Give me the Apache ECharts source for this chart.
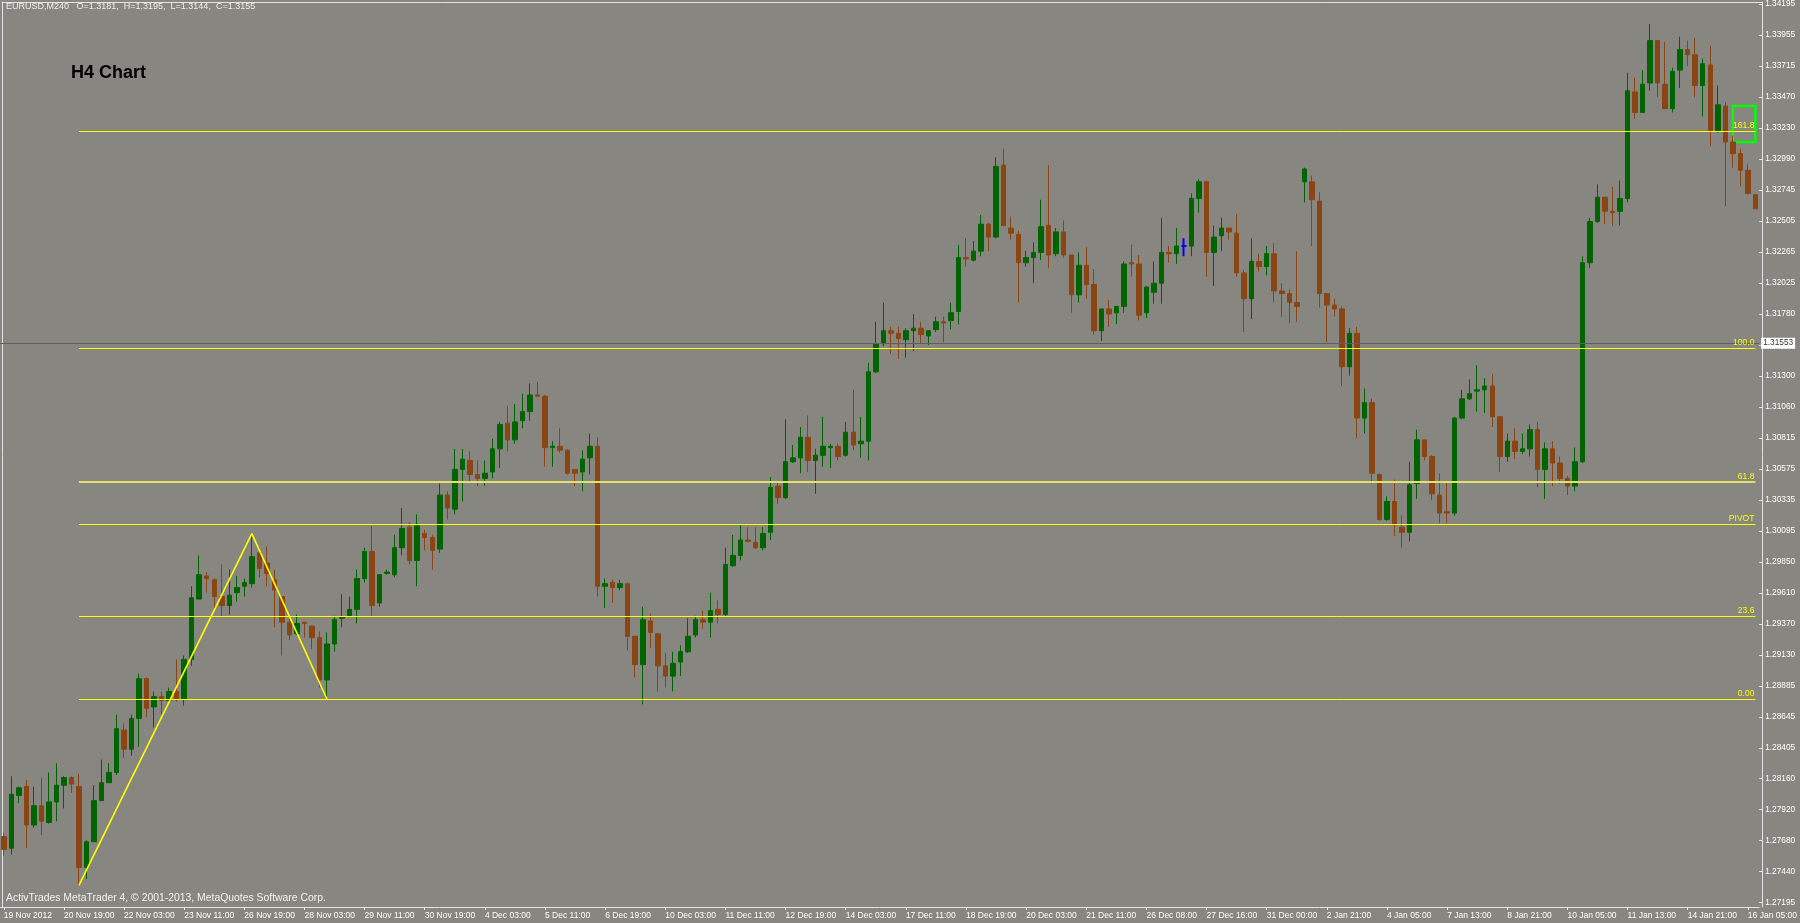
<!DOCTYPE html>
<html><head><meta charset="utf-8">
<script src="https://cdn.jsdelivr.net/npm/echarts@6/dist/echarts.min.js"></script>
<style>html,body{margin:0;padding:0;background:#878680;}#chart{width:1800px;height:923px;}</style>
</head><body><div id="chart"></div>
<script>
// EURUSD H4 OHLC, one entry per bar (first entry is the bar cut by the left edge)
const opens = [
1.2771,1.2762,1.2803,1.2810,1.2780,1.2795,1.2782,1.2798,1.2811,1.2817,
1.2810,1.2747,1.2767,1.2799,1.2813,1.2821,1.2854,1.2839,1.2863,1.2894,
1.2872,1.2880,1.2877,1.2884,1.2878,1.2909,1.2956,1.2974,1.2971,1.2958,
1.2951,1.2961,1.2966,1.2968,1.2992,1.2984,1.2971,1.2958,1.2938,1.2929,
1.2938,1.2935,1.2926,1.2893,1.2921,1.2941,1.2943,1.2948,1.2972,1.2993,
1.2953,1.2976,1.2975,1.2996,1.3012,1.2986,1.3007,1.3004,1.2995,1.3037,
1.3026,1.3057,1.3064,1.3053,1.3050,1.3055,1.3073,1.3093,1.3080,1.3095,
1.3102,1.3115,1.3114,1.3074,1.3075,1.3072,1.3057,1.3055,1.3066,1.3075,
1.2966,1.2969,1.2965,1.2968,1.2927,1.2905,1.2939,1.2929,1.2904,1.2896,
1.2907,1.2915,1.2928,1.2940,1.2938,1.2948,1.2944,1.2982,1.2990,1.3002,
1.3000,1.2996,1.3008,1.3044,1.3035,1.3063,1.3066,1.3082,1.3064,1.3068,
1.3074,1.3075,1.3068,1.3086,1.3077,1.3079,1.3133,1.3155,1.3165,1.3163,
1.3158,1.3165,1.3167,1.3161,1.3166,1.3172,1.3173,1.3180,1.3222,1.3220,
1.3227,1.3248,1.3238,1.3294,1.3245,1.3240,1.3218,1.3222,1.3226,1.3247,
1.3225,1.3242,1.3224,1.3193,1.3216,1.3201,1.3165,1.3182,1.3179,1.3184,
1.3218,1.3217,1.3179,1.3195,1.3202,1.3226,1.3225,1.3231,1.3231,1.3268,
1.3281,1.3226,1.3239,1.3245,1.3241,1.3210,1.3190,1.3219,1.3215,1.3225,
1.3196,1.3194,1.3187,1.3281,1.3281,1.3266,1.3194,1.3185,1.3182,1.3137,
1.3163,1.3097,1.3109,1.3053,1.3018,1.3032,1.3012,1.3008,1.3046,1.3080,
1.3067,1.3037,1.3024,1.3023,1.3097,1.3112,1.3118,1.3119,1.3122,1.3098,
1.3067,1.3079,1.3071,1.3073,1.3088,1.3057,1.3073,1.3062,1.3050,1.3044,
1.3063,1.3218,1.3250,1.3269,1.3258,1.3258,1.3268,1.3351,1.3335,1.3358,
1.3391,1.3357,1.3338,1.3368,1.3384,1.3380,1.3356,1.3372,1.3321,1.3340,
1.3312,1.3303,1.3290,1.3271];
const highs = [
1.2774,1.2818,1.2810,1.2815,1.2810,1.2817,1.2821,1.2828,1.2818,1.2818,
1.2820,1.2768,1.2811,1.2831,1.2828,1.2866,1.2859,1.2866,1.2898,1.2895,
1.2884,1.2884,1.2887,1.2909,1.2912,1.2966,1.2990,1.2977,1.2972,1.2983,
1.2979,1.2974,1.2972,1.3007,1.2996,1.2997,1.2979,1.2958,1.2944,1.2944,
1.2938,1.2935,1.2931,1.2930,1.2943,1.2960,1.2958,1.2979,1.2996,1.3013,
1.2975,1.2979,1.3006,1.3027,1.3016,1.3022,1.3010,1.3006,1.3046,1.3040,
1.3073,1.3073,1.3071,1.3064,1.3064,1.3081,1.3094,1.3106,1.3108,1.3116,
1.3124,1.3125,1.3115,1.3079,1.3089,1.3073,1.3057,1.3072,1.3085,1.3082,
1.2972,1.2971,1.2971,1.2969,1.2927,1.2950,1.2945,1.2929,1.2914,1.2915,
1.2920,1.2941,1.2943,1.2947,1.2961,1.2955,1.2996,1.3006,1.3014,1.3012,
1.3012,1.3012,1.3051,1.3047,1.3096,1.3076,1.3090,1.3099,1.3073,1.3098,
1.3077,1.3077,1.3094,1.3119,1.3098,1.3140,1.3172,1.3187,1.3168,1.3168,
1.3167,1.3178,1.3172,1.3165,1.3176,1.3176,1.3187,1.3232,1.3237,1.3235,
1.3255,1.3249,1.3300,1.3307,1.3254,1.3243,1.3227,1.3234,1.3267,1.3294,
1.3245,1.3251,1.3224,1.3226,1.3230,1.3213,1.3182,1.3189,1.3184,1.3219,
1.3232,1.3224,1.3200,1.3219,1.3253,1.3231,1.3245,1.3237,1.3272,1.3283,
1.3282,1.3247,1.3253,1.3245,1.3256,1.3212,1.3237,1.3225,1.3231,1.3233,
1.3202,1.3197,1.3227,1.3292,1.3286,1.3273,1.3194,1.3190,1.3184,1.3167,
1.3168,1.3120,1.3112,1.3054,1.3036,1.3049,1.3021,1.3063,1.3088,1.3080,
1.3068,1.3054,1.3047,1.3098,1.3119,1.3127,1.3138,1.3128,1.3131,1.3098,
1.3085,1.3089,1.3085,1.3092,1.3094,1.3078,1.3079,1.3067,1.3052,1.3074,
1.3223,1.3253,1.3279,1.3269,1.3277,1.3282,1.3366,1.3362,1.3368,1.3404,
1.3391,1.3390,1.3370,1.3394,1.3391,1.3393,1.3377,1.3387,1.3356,1.3343,
1.3317,1.3307,1.3295,1.3271];
const lows = [
1.2756,1.2757,1.2797,1.2762,1.2778,1.2772,1.2781,1.2783,1.2793,1.2805,
1.2733,1.2738,1.2767,1.2799,1.2813,1.2819,1.2832,1.2834,1.2841,1.2864,
1.2856,1.2866,1.2876,1.2876,1.2873,1.2904,1.2956,1.2961,1.2949,1.2942,
1.2944,1.2954,1.2958,1.2965,1.2973,1.2966,1.2934,1.2912,1.2924,1.2928,
1.2926,1.2917,1.2887,1.2878,1.2915,1.2934,1.2943,1.2937,1.2969,1.2943,
1.2950,1.2975,1.2973,1.2990,1.2983,1.2966,1.2994,1.2979,1.2992,1.3018,
1.3022,1.3032,1.3047,1.3044,1.3044,1.3050,1.3058,1.3071,1.3077,1.3089,
1.3095,1.3114,1.3059,1.3059,1.3070,1.3053,1.3044,1.3040,1.3053,1.2958,
1.2949,1.2953,1.2963,1.2916,1.2895,1.2874,1.2918,1.2884,1.2887,1.2884,
1.2896,1.2914,1.2926,1.2933,1.2926,1.2937,1.2942,1.2981,1.2986,1.3000,
1.2995,1.2994,1.3002,1.3030,1.3034,1.3062,1.3054,1.3055,1.3038,1.3059,
1.3058,1.3064,1.3067,1.3072,1.3066,1.3064,1.3132,1.3153,1.3147,1.3143,
1.3144,1.3149,1.3155,1.3154,1.3164,1.3156,1.3166,1.3170,1.3215,1.3219,
1.3223,1.3227,1.3237,1.3246,1.3236,1.3187,1.3215,1.3202,1.3220,1.3214,
1.3223,1.3222,1.3179,1.3187,1.3190,1.3162,1.3157,1.3168,1.3170,1.3179,
1.3207,1.3173,1.3175,1.3186,1.3186,1.3218,1.3217,1.3223,1.3223,1.3257,
1.3207,1.3200,1.3227,1.3236,1.3207,1.3164,1.3174,1.3211,1.3208,1.3187,
1.3176,1.3171,1.3172,1.3265,1.3231,1.3183,1.3156,1.3176,1.3122,1.3130,
1.3081,1.3085,1.3046,1.3017,1.3017,1.3005,1.2996,1.3001,1.3034,1.3064,
1.3033,1.3015,1.3015,1.3021,1.3096,1.3111,1.3102,1.3101,1.3090,1.3055,
1.3063,1.3065,1.3069,1.3067,1.3043,1.3034,1.3044,1.3046,1.3037,1.3040,
1.3062,1.3214,1.3249,1.3248,1.3247,1.3247,1.3265,1.3330,1.3335,1.3352,
1.3347,1.3338,1.3335,1.3354,1.3371,1.3347,1.3332,1.3309,1.3319,1.3262,
1.3292,1.3278,1.3271,1.3260];
const closes = [
1.2761,1.2804,1.2809,1.2780,1.2795,1.2783,1.2798,1.2811,1.2817,1.2812,
1.2747,1.2767,1.2799,1.2813,1.2821,1.2855,1.2839,1.2863,1.2894,1.2871,
1.2880,1.2877,1.2884,1.2878,1.2909,1.2957,1.2975,1.2972,1.2958,1.2951,
1.2959,1.2965,1.2969,1.2989,1.2980,1.2976,1.2963,1.2938,1.2928,1.2937,
1.2937,1.2926,1.2893,1.2921,1.2940,1.2942,1.2948,1.2972,1.2993,1.2951,
1.2975,1.2977,1.2996,1.3011,1.2986,1.3013,1.3004,1.2994,1.3037,1.3027,
1.3057,1.3065,1.3053,1.3050,1.3054,1.3073,1.3092,1.3080,1.3094,1.3102,
1.3115,1.3114,1.3074,1.3075,1.3072,1.3054,1.3054,1.3065,1.3075,1.2966,
1.2968,1.2965,1.2968,1.2927,1.2905,1.2940,1.2930,1.2904,1.2896,1.2906,
1.2915,1.2927,1.2940,1.2938,1.2947,1.2944,1.2983,1.2990,1.3002,1.3001,
1.2996,1.3007,1.3043,1.3035,1.3063,1.3066,1.3082,1.3064,1.3068,1.3075,
1.3075,1.3067,1.3086,1.3076,1.3079,1.3133,1.3155,1.3165,1.3163,1.3159,
1.3165,1.3167,1.3162,1.3165,1.3172,1.3171,1.3179,1.3222,1.3221,1.3227,
1.3248,1.3238,1.3293,1.3247,1.3241,1.3218,1.3222,1.3226,1.3246,1.3224,
1.3242,1.3224,1.3193,1.3216,1.3201,1.3165,1.3182,1.3178,1.3184,1.3217,
1.3217,1.3177,1.3199,1.3202,1.3226,1.3225,1.3231,1.3231,1.3268,1.3281,
1.3226,1.3238,1.3245,1.3242,1.3210,1.3190,1.3219,1.3215,1.3225,1.3196,
1.3194,1.3187,1.3184,1.3291,1.3267,1.3194,1.3185,1.3182,1.3137,1.3163,
1.3097,1.3109,1.3054,1.3018,1.3032,1.3014,1.3008,1.3045,1.3080,1.3067,
1.3038,1.3023,1.3023,1.3097,1.3112,1.3116,1.3119,1.3122,1.3098,1.3067,
1.3079,1.3071,1.3073,1.3088,1.3057,1.3073,1.3062,1.3050,1.3044,1.3063,
1.3218,1.3250,1.3269,1.3258,1.3257,1.3268,1.3352,1.3335,1.3357,1.3391,
1.3358,1.3338,1.3367,1.3384,1.3380,1.3356,1.3373,1.3321,1.3341,1.3312,
1.3303,1.3290,1.3272,1.3260];

// Time-axis labels: one every 8 bars, starting at bar 0
const xTickLabels = ['19 Nov 2012','20 Nov 19:00','22 Nov 03:00','23 Nov 11:00','26 Nov 19:00','28 Nov 03:00',
  '29 Nov 11:00','30 Nov 19:00','4 Dec 03:00','5 Dec 11:00','6 Dec 19:00','10 Dec 03:00','11 Dec 11:00',
  '12 Dec 19:00','14 Dec 03:00','17 Dec 11:00','18 Dec 19:00','20 Dec 03:00','21 Dec 11:00','26 Dec 08:00',
  '27 Dec 16:00','31 Dec 00:00','2 Jan 21:00','4 Jan 05:00','7 Jan 13:00','8 Jan 21:00','10 Jan 05:00',
  '11 Jan 13:00','14 Jan 21:00','16 Jan 05:00'];
const labelStep = 8;
// Price scale labels, bottom to top (slot 18 is covered by the current-price tag)
const yTickLabels = ['1.27195','1.27440','1.27680','1.27920','1.28160','1.28405','1.28645','1.28885','1.29130',
  '1.29370','1.29610','1.29850','1.30095','1.30335','1.30575','1.30815','1.31060','1.31300','',
  '1.31780','1.32025','1.32265','1.32505','1.32745','1.32990','1.33230','1.33470','1.33715','1.33955','1.34195'];
const priceMin = 1.27195, priceMax = 1.34195;

const fibNames = ['0.00','23.6','61.8','100.0','161.8'];
const fibPrices = [1.28782,1.29427,1.30470,1.31513,1.33201];
const pivotName = 'PIVOT', pivotPrice = 1.30142;
const levelStartBar = 10, levelEndBar = 233;
const currentPrice = 1.31553;
const zigzagBars = [10,33,43];
const zigzagPrices = [1.2733,1.3007,1.2878];
const boxBars = [230,233];
const boxPrices = [1.3340,1.3312];
const dojiBar = 157;

const headerText = 'EURUSD,M240   O=1.3181,  H=1.3195,  L=1.3144,  C=1.3155';
const titleText = 'H4 Chart';
const footerText = 'ActivTrades MetaTrader 4, \u00A9 2001-2013, MetaQuotes Software Corp.';

const BULL = '#006400', BEAR = '#8b4513', AXIS = '#e4e4e4', FONT = '"Liberation Sans", Arial, sans-serif';

const categories = opens.map((_, i) => String(i));
const candleData = opens.map((o, i) => {
  const v = [o, closes[i], lows[i], highs[i]];
  if (i === dojiBar) {
    return {value: v, itemStyle: {color:'#0000ff', color0:'#0000ff', borderColor:'#0000ff', borderColor0:'#0000ff', borderColorDoji:'#0000ff', borderWidth:2}};
  }
  return v;
});
const showEvery = (idx) => idx % labelStep === 0;

const levelLines = fibPrices.map((p, i) => [
  {coord:[levelStartBar, p], name: fibNames[i],
   lineStyle: fibNames[i] === '61.8' ? {color:'#e2e26a', width:2, type:'solid'} : {color:'#ffff00', width:1, type:'solid'},
   label:{show:true, position:'insideEndTop', formatter: fibNames[i], color:'#ffff00', fontSize:8.5, fontFamily:FONT, distance:[1,1]}},
  {coord:[levelEndBar, p]}
]);
levelLines.push([
  {coord:[levelStartBar, pivotPrice], name: pivotName, lineStyle:{color:'#ffff00', width:1, type:'solid'},
   label:{show:true, position:'insideEndTop', formatter: pivotName, color:'#ffff00', fontSize:8.5, fontFamily:FONT, distance:[1,1]}},
  {coord:[levelEndBar, pivotPrice]}
]);

const chart = echarts.init(document.getElementById('chart'), null, {renderer:'canvas'});
chart.setOption({
  backgroundColor: '#878680',
  animation: false,
  grid: [
    {left:0, right:38, top:4, bottom:20.3},
    {left:2, right:38, top:2, bottom:16}
  ],
  xAxis: [
    {type:'category', gridIndex:0, data:categories, boundaryGap:true, offset:4.3,
     axisLine:{show:true, onZero:false, lineStyle:{color:AXIS, width:1}},
     axisTick:{show:true, alignWithLabel:true, interval:showEvery, length:3, lineStyle:{color:AXIS}},
     axisLabel:{interval:showEvery, formatter:(v, i) => xTickLabels[i / labelStep] || '', align:'left', margin:4,
                color:'#ffffff', fontSize:8.5, fontFamily:FONT},
     splitLine:{show:false}},
    {type:'value', gridIndex:1, position:'top', min:0, max:1,
     axisLine:{show:true, onZero:false, lineStyle:{color:AXIS}}, axisTick:{show:false}, axisLabel:{show:false}, splitLine:{show:false}}
  ],
  yAxis: [
    {type:'value', gridIndex:0, min:priceMin, max:priceMax, show:false, splitLine:{show:false}},
    {type:'value', gridIndex:0, position:'right', min:0, max:yTickLabels.length - 1, interval:1,
     axisLine:{show:false}, axisTick:{show:true, length:3, lineStyle:{color:AXIS}},
     axisLabel:{margin:6, color:'#ffffff', fontSize:8.3, fontFamily:FONT, formatter:(v) => yTickLabels[Math.round(v)] || ''},
     splitLine:{show:false}},
    {type:'value', gridIndex:1, position:'right', min:0, max:1,
     axisLine:{show:true, onZero:false, lineStyle:{color:AXIS}}, axisTick:{show:false}, axisLabel:{show:false}, splitLine:{show:false}},
    {type:'value', gridIndex:1, position:'left', min:0, max:1,
     axisLine:{show:true, onZero:false, lineStyle:{color:AXIS}}, axisTick:{show:false}, axisLabel:{show:false}, splitLine:{show:false}}
  ],
  series: [
    {type:'candlestick', xAxisIndex:0, yAxisIndex:0, data:candleData, barWidth:5,
     itemStyle:{color:BULL, color0:BEAR, borderColor:BULL, borderColor0:BEAR, borderWidth:1},
     markLine:{silent:true, symbol:['none','none'], precision:5, animation:false,
       data:[
         {yAxis:currentPrice, lineStyle:{color:'#5f5f5f', width:1, type:'solid'},
          label:{show:true, position:'end', distance:2, formatter: currentPrice.toFixed(5), backgroundColor:'#ffffff',
                 color:'#333333', padding:[2,2,1,2], fontSize:8.3, fontFamily:FONT}}
       ].concat(levelLines)},
     markArea:{silent:true,
       itemStyle:{color:'rgba(0,0,0,0)', borderColor:'#00ff00', borderWidth:2.5},
       data:[[{coord:[boxBars[0], boxPrices[0]]}, {coord:[boxBars[1], boxPrices[1]]}]]}
    },
    {type:'line', xAxisIndex:0, yAxisIndex:0, data: zigzagBars.map((b, i) => [b, zigzagPrices[i]]),
     symbol:'none', lineStyle:{color:'#ffff00', width:1.6}, z:5, silent:true}
  ],
  graphic: [
    {type:'text', left:6, top:2, style:{text:headerText, fill:'#eeeeee', font:'9px ' + FONT}},
    {type:'text', left:71, top:64, style:{text:titleText, fill:'#000000', font:'bold 18px ' + FONT}},
    {type:'text', left:6, top:893, style:{text:footerText, fill:'#f2f2f2', font:'10.4px ' + FONT}}
  ]
});
</script>
</body></html>
